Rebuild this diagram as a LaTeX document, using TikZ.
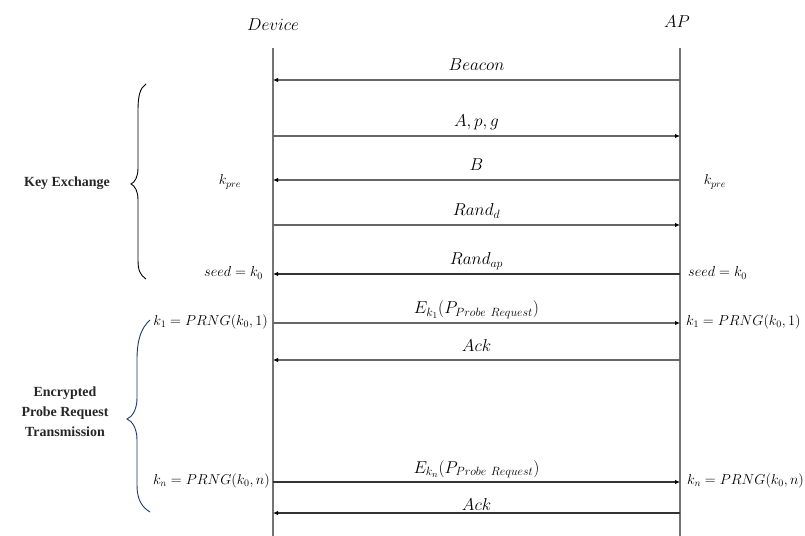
\documentclass[tikz,border=0pt]{standalone}
\usepackage[no-math]{fontspec}
\setmainfont{Liberation Serif}
\usetikzlibrary{arrows.meta}
\begin{document}
\begin{tikzpicture}[x=1bp,y=-1bp,
  life/.style={draw=black!55,line width=1.4bp},
  msg/.style={draw=black!60,line width=1.3bp,-{Latex[length=5bp,width=4.5bp,color=black]}},
  mlab/.style={font=\fontsize{18.5}{20}\selectfont,anchor=base,inner sep=0pt},
  side/.style={font=\fontsize{14.5}{16}\selectfont,inner sep=0pt},
  title/.style={font=\fontsize{19}{20}\selectfont,inner sep=0pt},
  grp/.style={font=\fontsize{14}{20}\selectfont\bfseries,align=center,inner sep=0pt,text=black!85},
  bracestyle/.style={line width=0.9bp}]
\useasboundingbox (0,0) rectangle (805,536);
% lifelines
\node[title] (dev) at (273,25) {$Device$};
\node[title,font=\fontsize{17}{20}\selectfont] (ap) at (677,22) {$AP$};
\coordinate (d0) at (273,48); \coordinate (d1) at (273,536);
\coordinate (a0) at (680,48); \coordinate (a1) at (680,536);
\draw[life] (d0) -- (d1);
\draw[life] (a0) -- (a1);
% message end points
\foreach \n/\y in {m1/80,m2/136,m3/180,m4/225,m5/274,m6/323,m7/360,m8/482,m9/513}{
  \coordinate (d\n) at (273,\y); \coordinate (a\n) at (680,\y);}
\draw[msg] (am1) -- node[mlab,yshift=9bp]{$Beacon$} (dm1);
\draw[msg] (dm2) -- node[mlab,yshift=9bp]{$A, p, g$} (am2);
\draw[msg] (am3) -- node[mlab,yshift=9bp]{$B$} (dm3);
\draw[msg] (dm4) -- node[mlab,yshift=9bp]{$Rand_d$} (am4);
\draw[msg,draw=black!80] (am5) -- node[mlab,yshift=9bp]{$Rand_{ap}$} (dm5);
\draw[msg] (dm6) -- node[mlab,yshift=9bp]{$E_{k_1}(P_{Probe\ Request})$} (am6);
\draw[msg] (am7) -- node[mlab,yshift=9bp]{$Ack$} (dm7);
\draw[msg,draw=black!80] (dm8) -- node[mlab,yshift=9bp]{$E_{k_n}(P_{Probe\ Request})$} (am8);
\draw[msg,draw=black!80] (am9) -- node[mlab,yshift=3bp]{$Ack$} (dm9);
% side labels
\node[side] (lpre) at (230,182) {$k_{pre}$};
\node[side] (rpre) at (715,182) {$k_{pre}$};
\node[side,anchor=east] (lseed) at (263,273) {$seed = k_0$};
\node[side,anchor=west] (rseed) at (688,273) {$seed = k_0$};
\node[side,anchor=east] (lk1) at (268,322) {$k_1 = PRNG(k_0, 1)$};
\node[side,anchor=west] (rk1) at (686,322) {$k_1 = PRNG(k_0, 1)$};
\node[side,anchor=east] (lkn) at (270,481) {$k_n = PRNG(k_0, n)$};
\node[side,anchor=west] (rkn) at (687,481) {$k_n = PRNG(k_0, n)$};
% braces
\draw[bracestyle] (146,84) .. controls (140,88) and (138,96) .. (138,110) -- (138,168)
  .. controls (138,177) and (135,182) .. (131,184)
  .. controls (135,186) and (138,191) .. (138,200) -- (138,260)
  .. controls (138,270) and (140,275) .. (146,279);
\draw[bracestyle,draw={rgb,255:red,32;green,56;blue,110}] (150,320) .. controls (141,328) and (137,340) .. (137,360) -- (137,398)
  .. controls (137,410) and (132,417) .. (127,419)
  .. controls (132,421) and (137,428) .. (137,440) -- (137,485)
  .. controls (137,500) and (142,507) .. (150,512);
\node[grp] (kex) at (67,183) {Key Exchange};
\node[grp] (enc) at (65,412) {Encrypted\\Probe Request\\Transmission};
\end{tikzpicture}
\end{document}
